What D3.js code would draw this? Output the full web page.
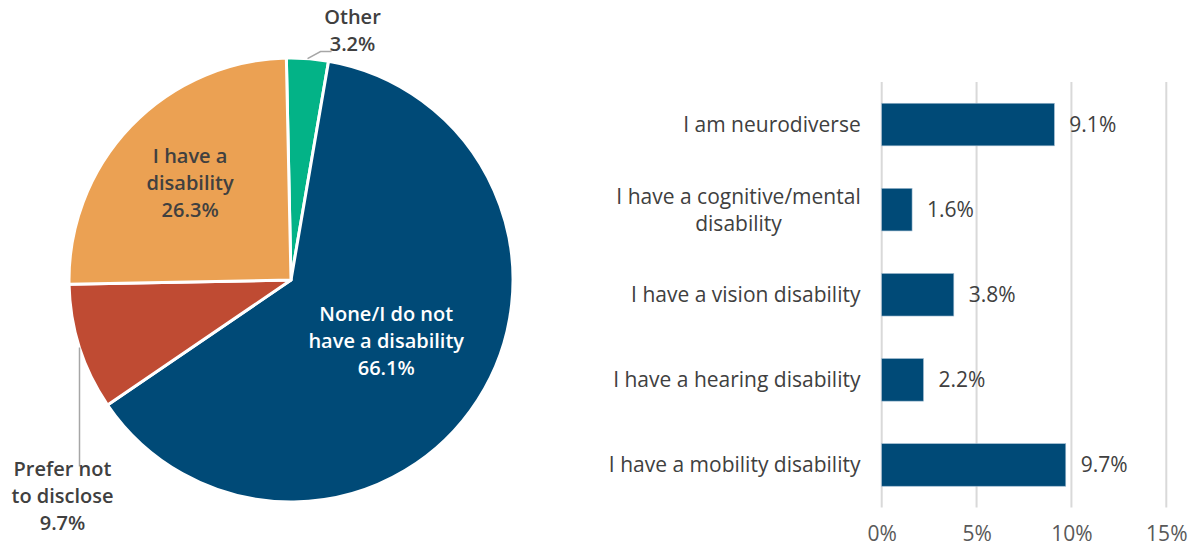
<!DOCTYPE html>
<html>
<head>
<meta charset="utf-8">
<script src="https://cdn.jsdelivr.net/npm/d3@7"></script>
<style>
  html, body { margin: 0; padding: 0; background: #ffffff; }
  svg { display: block; }
  text { font-family: "Open Sans", "Liberation Sans", sans-serif; fill: #404040; }
</style>
</head>
<body>
<svg id="chart" width="1194" height="550"></svg>
<script>
// Disability status (pie)
const pieCategories = ["Other", "None/I do not have a disability", "Prefer not to disclose", "I have a disability"];
const pieLabels = [["Other", "3.2%"], ["None/I do not", "have a disability", "66.1%"], ["Prefer not", "to disclose", "9.7%"], ["I have a", "disability", "26.3%"]];
const pieValues = [3.2, 66.1, 9.7, 26.3];
const pieColors = ["#03B387", "#004A77", "#BF4B33", "#EBA153"];

// Types of disability (bars)
const barCategories = ["I am neurodiverse", "I have a cognitive/mental disability", "I have a vision disability", "I have a hearing disability", "I have a mobility disability"];
const barLabelLines = [["I am neurodiverse"], ["I have a cognitive/mental", "disability"], ["I have a vision disability"], ["I have a hearing disability"], ["I have a mobility disability"]];
const barValues = [9.1, 1.6, 3.8, 2.2, 9.7];
const xTicks = [0, 5, 10, 15];

const svg = d3.select("#chart");

// ---------- Pie ----------
const cx = 291, cy = 280, R = 222;
const rot = -1.2 * Math.PI / 180;
const pie = d3.pie().sort(null).value(d => d)
  .startAngle(rot).endAngle(rot + 2 * Math.PI);
const arcs = pie(pieValues);
const arc = d3.arc().innerRadius(0).outerRadius(R);

const gPie = svg.append("g").attr("transform", `translate(${cx},${cy})`);
gPie.selectAll("path.slice").data(arcs).join("path")
  .attr("class", "slice")
  .attr("d", arc)
  .attr("fill", (d, i) => pieColors[i])
  .attr("stroke", "#ffffff")
  .attr("stroke-width", 3)
  .attr("stroke-linejoin", "round");

const lineH = 27;
function polar(angle, r) { return [r * Math.sin(angle), -r * Math.cos(angle)]; }
function midAngle(d) { return (d.startAngle + d.endAngle) / 2; }

// inside labels: radius fraction for each slice
const insideLabel = { 1: { r: 0.51, color: "#ffffff" }, 3: { r: 0.63, color: "#404040" } };
Object.keys(insideLabel).forEach(k => {
  const i = +k, d = arcs[i];
  const [x, y] = polar(midAngle(d), R * insideLabel[k].r);
  const lines = pieLabels[i];
  const t = gPie.append("text")
    .attr("text-anchor", "middle")
    .attr("font-size", 20).attr("font-weight", 600)
    .style("fill", insideLabel[k].color);
  lines.forEach((s, j) => {
    t.append("tspan").attr("x", x)
      .attr("y", y + (j - (lines.length - 1) / 2) * lineH)
      .attr("dy", "0.35em").text(s);
  });
});

// outside labels with leader lines
function outsideLabel(i, pts, tx, ty) {
  const d = arcs[i];
  const start = polar(midAngle(d), R);
  gPie.append("path")
    .attr("d", d3.line()([start, ...pts]))
    .attr("fill", "none").attr("stroke", "#a6a6a6").attr("stroke-width", 1.5);
  const lines = pieLabels[i];
  const t = gPie.append("text")
    .attr("text-anchor", "middle")
    .attr("font-size", 20).attr("font-weight", 600);
  lines.forEach((s, j) => {
    t.append("tspan").attr("x", tx).attr("y", ty + j * lineH).attr("dy", "0.35em").text(s);
  });
}
// Other (top)
(function () {
  const s = polar(midAngle(arcs[0]), R);
  outsideLabel(0, [[s[0] + 13, s[1] - 7], [s[0] + 24, s[1] - 7]], s[0] + 45, s[1] - 42);
})();
// Prefer not to disclose (lower left)
(function () {
  const s = polar(midAngle(arcs[2]), R);
  outsideLabel(2, [[s[0], s[1] + 119]], s[0] - 17, s[1] + 122);
})();

// ---------- Bars ----------
const bx0 = 881.7, bx1 = 1166.3, by0 = 82, by1 = 507.5;
const x = d3.scaleLinear().domain([0, 15]).range([bx0, bx1]);
const y = d3.scaleBand().domain(barCategories).range([by0, by1]).paddingInner(0.5).paddingOuter(0.25);

const gBar = svg.append("g");
// gridlines
gBar.selectAll("line.grid").data(xTicks).join("line")
  .attr("class", "grid")
  .attr("x1", d => x(d)).attr("x2", d => x(d))
  .attr("y1", by0).attr("y2", by1)
  .attr("stroke", "#d9d9d9").attr("stroke-width", 2);

// x axis labels
const xAxis = d3.axisBottom(x).tickValues(xTicks).tickFormat(d => d + "%").tickSize(0).tickPadding(0);
const gx = gBar.append("g").attr("transform", `translate(0,${by1 + 19})`).call(xAxis);
gx.select(".domain").remove();
gx.selectAll("text").attr("font-size", 21).attr("font-family", null).style("fill", "#595959");

// bars
gBar.selectAll("rect.bar").data(barValues).join("rect")
  .attr("class", "bar")
  .attr("x", x(0))
  .attr("y", (d, i) => y(barCategories[i]))
  .attr("width", d => x(d) - x(0))
  .attr("height", y.bandwidth())
  .attr("fill", "#004A77")
  .attr("stroke", "#9db9cf").attr("stroke-width", 0.6);

// value labels
gBar.selectAll("text.val").data(barValues).join("text")
  .attr("class", "val")
  .attr("x", d => x(d) + 15)
  .attr("y", (d, i) => y(barCategories[i]) + y.bandwidth() / 2)
  .attr("dy", "0.35em")
  .attr("font-size", 21)
  .style("fill", "#404040")
  .text(d => d.toFixed(1) + "%");

// category labels (right-aligned block, centered lines)
barLabelLines.forEach((lines, i) => {
  const cyb = y(barCategories[i]) + y.bandwidth() / 2;
  const t = gBar.append("text").attr("font-size", 21).attr("text-anchor", "middle");
  lines.forEach((s, j) => {
    t.append("tspan").attr("x", 0).attr("y", cyb + (j - (lines.length - 1) / 2) * lineH)
      .attr("dy", "0.35em").text(s);
  });
  // align the block's right edge to the axis
  const w = t.node().getBBox().width;
  t.selectAll("tspan").attr("x", x(0) - 21 - w / 2);
});
</script>
</body>
</html>
